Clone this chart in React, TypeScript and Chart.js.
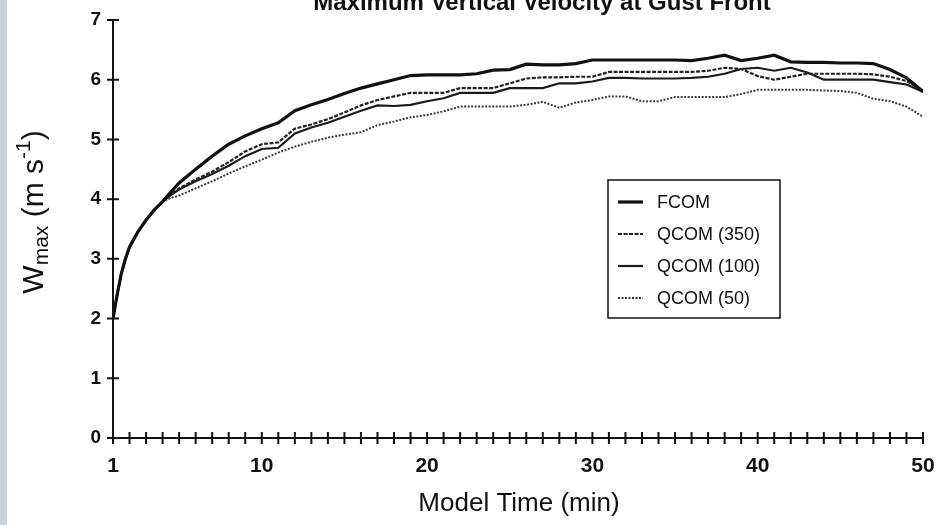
import React, { useEffect, useRef } from "react";
import { Chart, registerables } from "chart.js";

Chart.register(...registerables);

const TITLE = "Maximum Vertical Velocity at Gust Front";
const X_TITLE = "Model Time (min)";
const X_LABELED = [1, 10, 20, 30, 40, 50];
const Y_TICKS = [0, 1, 2, 3, 4, 5, 6, 7];

const TIME = [
  1, 1.25, 1.5, 1.75, 2, 2.5, 3, 3.5, 4, 4.5, 5, 6, 7, 8, 9, 10, 11, 12, 13, 14, 15, 16, 17, 18,
  19, 20, 21, 22, 23, 24, 25, 26, 27, 28, 29, 30, 31, 32, 33, 34, 35, 36, 37, 38, 39, 40, 41, 42,
  43, 44, 45, 46, 47, 48, 49, 50,
];

const FCOM = [
  2.0, 2.4, 2.75, 3.0, 3.2, 3.45, 3.65, 3.82, 3.96, 4.12, 4.27, 4.5, 4.72, 4.92, 5.06, 5.18, 5.28,
  5.48, 5.58, 5.67, 5.77, 5.86, 5.93, 6.0, 6.07, 6.08, 6.08, 6.08, 6.1, 6.16, 6.17, 6.26, 6.25,
  6.25, 6.27, 6.33, 6.33, 6.33, 6.33, 6.33, 6.33, 6.32, 6.36, 6.41, 6.32, 6.36, 6.41, 6.3, 6.29,
  6.29, 6.28, 6.28, 6.27, 6.17, 6.03, 5.8,
];

const QCOM_350 = [
  2.0, 2.4, 2.75, 3.0, 3.2, 3.45, 3.65, 3.82, 3.96, 4.08, 4.18, 4.33, 4.46, 4.62, 4.8, 4.92, 4.95,
  5.18, 5.25, 5.34, 5.45, 5.57, 5.66, 5.72, 5.78, 5.78, 5.78, 5.86, 5.86, 5.86, 5.94, 6.02, 6.04,
  6.04, 6.05, 6.05, 6.13, 6.13, 6.13, 6.13, 6.13, 6.13, 6.15, 6.2, 6.18, 6.06, 6.0, 6.05, 6.1,
  6.1, 6.1, 6.1, 6.09, 6.05, 5.98, 5.82,
];

const QCOM_100 = [
  2.0, 2.4, 2.75, 3.0, 3.2, 3.45, 3.65, 3.82, 3.96, 4.07, 4.16, 4.3, 4.42, 4.56, 4.72, 4.84, 4.86,
  5.1, 5.2, 5.28, 5.38, 5.48, 5.57, 5.56, 5.58, 5.64, 5.69, 5.78, 5.78, 5.78, 5.86, 5.86, 5.86,
  5.94, 5.94, 5.97, 6.03, 6.03, 6.02, 6.02, 6.02, 6.03, 6.05, 6.1, 6.18, 6.2, 6.15, 6.2, 6.12, 6.0,
  6.0, 6.0, 6.0, 5.96, 5.92, 5.8,
];

const QCOM_50 = [
  2.0, 2.4, 2.75, 3.0, 3.2, 3.45, 3.65, 3.82, 3.96, 4.02, 4.06, 4.18, 4.3, 4.43, 4.55, 4.66, 4.78,
  4.88, 4.96, 5.03, 5.08, 5.12, 5.24, 5.3, 5.37, 5.41, 5.47, 5.55, 5.55, 5.55, 5.55, 5.58, 5.63,
  5.53, 5.62, 5.66, 5.72, 5.72, 5.64, 5.64, 5.71, 5.71, 5.71, 5.71, 5.76, 5.83, 5.83, 5.83, 5.83,
  5.82, 5.81, 5.78, 5.68, 5.64, 5.55, 5.38,
];

const SERIES_LABELS = ["FCOM", "QCOM (350)", "QCOM (100)", "QCOM (50)"];

const FONT = "Arial, 'Liberation Sans', sans-serif";

const decorPlugin = {
  id: "decor",
  afterDraw(chart: any) {
    const { ctx, scales } = chart;
    const xs = scales.x;
    const ys = scales.y;
    ctx.save();
    // cross ticks
    ctx.strokeStyle = "#111";
    ctx.lineWidth = 2;
    ctx.beginPath();
    for (let t = 1; t <= 50; t++) {
      const px = xs.getPixelForValue(t);
      ctx.moveTo(px, ys.bottom - 6);
      ctx.lineTo(px, ys.bottom + 6);
    }
    for (const v of Y_TICKS) {
      const py = ys.getPixelForValue(v);
      ctx.moveTo(xs.left - 6, py);
      ctx.lineTo(xs.left + 6, py);
    }
    ctx.stroke();

    // title (partially cut at the top)
    ctx.fillStyle = "#111";
    ctx.font = `bold 24px ${FONT}`;
    ctx.textAlign = "center";
    ctx.textBaseline = "alphabetic";
    ctx.fillText(TITLE, 542, 10);

    // x-axis title
    ctx.font = `26px ${FONT}`;
    ctx.textBaseline = "middle";
    ctx.fillText(X_TITLE, 519, 504);

    // y-axis title: W_max (m s^-1)
    ctx.save();
    ctx.translate(33, 212);
    ctx.rotate(-Math.PI / 2);
    const big = `30px ${FONT}`;
    const small = `21px ${FONT}`;
    const parts: [string, string, number][] = [
      ["W", big, 0],
      ["max", small, 7],
      [" (m s", big, 0],
      ["-1", small, -11],
      [")", big, 0],
    ];
    let total = 0;
    for (const [s, f] of parts) {
      ctx.font = f;
      total += ctx.measureText(s).width;
    }
    let x = -total / 2;
    ctx.textAlign = "left";
    ctx.textBaseline = "middle";
    for (const [s, f, dy] of parts) {
      ctx.font = f;
      ctx.fillText(s, x, dy + 2);
      x += ctx.measureText(s).width;
    }
    ctx.restore();

    // legend box
    const bx = 608, by = 180, bw = 172, bh = 138;
    ctx.strokeStyle = "#111";
    ctx.lineWidth = 1.5;
    ctx.strokeRect(bx, by, bw, bh);
    ctx.font = `18px ${FONT}`;
    ctx.textAlign = "left";
    ctx.textBaseline = "middle";
    chart.data.datasets.forEach((ds: any, i: number) => {
      const y = 202 + i * 32;
      ctx.save();
      ctx.strokeStyle = ds.borderColor;
      ctx.lineWidth = ds.borderWidth;
      ctx.setLineDash(ds.borderDash || []);
      ctx.beginPath();
      ctx.moveTo(618, y);
      ctx.lineTo(643, y);
      ctx.stroke();
      ctx.restore();
      ctx.fillStyle = "#111";
      ctx.fillText(ds.label, 657, y + 1);
    });
    ctx.restore();
  },
};

export default function App() {
  const ref = useRef<HTMLCanvasElement | null>(null);

  useEffect(() => {
    if (!ref.current) return;
    const mk = (vals: number[]) => TIME.map((t, i) => ({ x: t, y: vals[i] }));
    const chart = new Chart(ref.current, {
      type: "line",
      data: {
        datasets: [
          { label: SERIES_LABELS[0], data: mk(FCOM), borderColor: "#111", borderWidth: 3.2, pointRadius: 0, tension: 0 },
          { label: SERIES_LABELS[1], data: mk(QCOM_350), borderColor: "#222", borderWidth: 2.2, borderDash: [4, 1.5], pointRadius: 0, tension: 0 },
          { label: SERIES_LABELS[2], data: mk(QCOM_100), borderColor: "#1a1a1a", borderWidth: 2.2, pointRadius: 0, tension: 0 },
          { label: SERIES_LABELS[3], data: mk(QCOM_50), borderColor: "#3a3a3a", borderWidth: 2, borderDash: [2, 1.5], pointRadius: 0, tension: 0 },
        ],
      },
      options: {
        responsive: false,
        animation: false,
        layout: { autoPadding: false, padding: { left: 0, right: 16, top: 20, bottom: 0 } },
        plugins: { legend: { display: false }, tooltip: { enabled: false }, title: { display: false } },
        scales: {
          x: {
            type: "linear",
            min: 1,
            max: 50,
            afterFit: (s: any) => {
              s.height = 87;
              s.paddingLeft = 0;
              s.paddingRight = 0;
            },
            afterBuildTicks: (s: any) => {
              s.ticks = X_LABELED.map((v) => ({ value: v }));
            },
            grid: { display: false, drawTicks: false },
            border: { display: true, color: "#111", width: 2 },
            ticks: {
              autoSkip: false,
              maxRotation: 0,
              padding: 16,
              color: "#111",
              font: { family: FONT, size: 21, weight: "bold" },
            },
          },
          y: {
            min: 0,
            max: 7,
            afterFit: (s: any) => {
              s.width = 113;
              s.paddingTop = 0;
              s.paddingBottom = 0;
            },
            afterBuildTicks: (s: any) => {
              s.ticks = Y_TICKS.map((v) => ({ value: v }));
            },
            grid: { display: false, drawTicks: false },
            border: { display: true, color: "#111", width: 2 },
            ticks: {
              padding: 12,
              color: "#111",
              font: { family: FONT, size: 19, weight: "bold" },
            },
          },
        },
      },
      plugins: [decorPlugin],
    } as any);
    return () => chart.destroy();
  }, []);

  return (
    <div style={{ position: "fixed", left: 0, top: 0, width: 939, height: 525, background: "#fff", overflow: "hidden" }}>
      <div style={{ position: "absolute", left: 0, top: 0, width: 7, height: 525, background: "#c8d3dc" }} />
      <canvas ref={ref} width={939} height={525} style={{ position: "absolute", left: 0, top: 0 }} />
    </div>
  );
}
